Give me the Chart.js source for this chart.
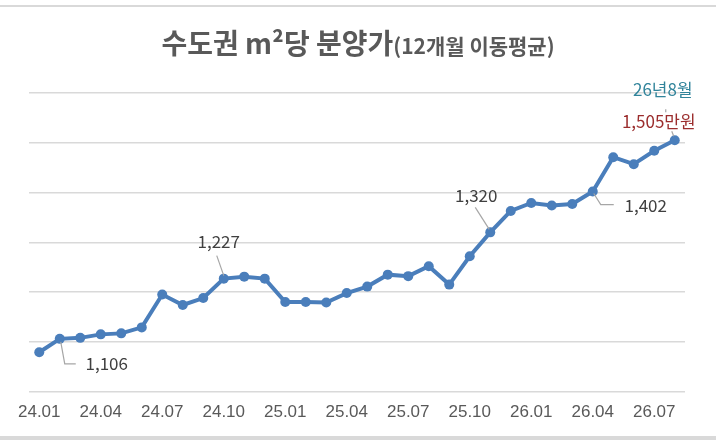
<!DOCTYPE html>
<html>
<head>
<meta charset="utf-8">
<script src="https://cdn.jsdelivr.net/npm/chart.js@4.4.1/dist/chart.umd.min.js"></script>
<style>
  html, body { margin:0; padding:0; background:#fff; }
  #wrap { position:relative; width:716px; height:440px; overflow:hidden; }
  #topline { position:absolute; left:0; top:5px; width:716px; height:2px; background:#d9d9d9; }
  #botline { position:absolute; left:0; top:436px; width:716px; height:4px; background:#d9d9d9; }
  #title { position:absolute; left:0; top:22px; width:716px; text-align:center;
           font-family:"Noto Sans CJK KR", "Noto Sans", sans-serif; font-weight:bold; color:#595959; white-space:nowrap; }
  #title .big { font-size:28px; }
  #title .small { font-size:21px; }
  canvas { position:absolute; left:0; top:0; }
</style>
</head>
<body>
<div id="wrap">
  <div id="topline"></div>
  <div id="botline"></div>
  <canvas id="chart" width="716" height="440"></canvas>
  <div id="title"><span class="big">수도권 m²당 분양가</span><span class="small">(12개월 이동평균)</span></div>
</div>
<script>
// months 24.01 .. 26.08
const months = [
  "24.01","24.02","24.03","24.04","24.05","24.06","24.07","24.08","24.09","24.10","24.11","24.12",
  "25.01","25.02","25.03","25.04","25.05","25.06","25.07","25.08","25.09","25.10","25.11","25.12",
  "26.01","26.02","26.03","26.04","26.05","26.06","26.07","26.08"
];
// 만원 per m², 12-month moving average
const prices = [
  1079, 1106, 1108, 1115, 1117, 1129, 1195, 1174, 1188, 1227, 1231, 1227,
  1180, 1180, 1179, 1198, 1211, 1235, 1232, 1252, 1215, 1272, 1320, 1363,
  1379, 1374, 1377, 1402, 1471, 1457, 1484, 1505
];
const shownTicks = ["24.01","24.04","24.07","24.10","25.01","25.04","25.07","25.10","26.01","26.04","26.07"];
const yTicks = [1000, 1100, 1200, 1300, 1400, 1500, 1600];

const lineColor = '#4a7ebb';
const labelFont = '17px "Liberation Sans Narrow", "Noto Sans CJK KR", sans-serif';

// callouts: point index, label offset from point, leader path (offsets from point)
const callouts = [
  { idx: 1,  dx: 47,  dy: 25,  path: [[1, 3], [5, 25], [16, 25]] },
  { idx: 9,  dx: -5,  dy: -37, path: [[0, -3], [-7, -23]] },
  { idx: 22, dx: -14, dy: -37, path: [[-1, -3], [-15, -25]] },
  { idx: 27, dx: 53,  dy: 14,  path: [[1, 2], [8, 13], [21, 13]] }
];

const calloutPlugin = {
  id: 'callouts',
  afterDatasetsDraw(chart) {
    const ctx = chart.ctx;
    const pts = chart.getDatasetMeta(0).data;
    ctx.save();
    ctx.font = labelFont;
    ctx.textAlign = 'center';
    ctx.textBaseline = 'middle';
    callouts.forEach(c => {
      const p = pts[c.idx];
      ctx.strokeStyle = '#a6a6a6';
      ctx.lineWidth = 1.2;
      ctx.beginPath();
      c.path.forEach((o, k) => {
        if (k === 0) ctx.moveTo(p.x + o[0], p.y + o[1]);
        else ctx.lineTo(p.x + o[0], p.y + o[1]);
      });
      ctx.stroke();
      ctx.fillStyle = '#404040';
      ctx.fillText(prices[c.idx].toLocaleString('en-US'), p.x + c.dx, p.y + c.dy);
    });
    // last point callout
    const last = prices.length - 1;
    const lp = pts[last];
    const [yy, mm] = months[last].split('.');
    ctx.strokeStyle = '#a6a6a6';
    ctx.beginPath();
    ctx.moveTo(lp.x - 9, lp.y - 31);
    ctx.lineTo(lp.x - 9, lp.y - 28);
    ctx.moveTo(lp.x - 3, lp.y - 9);
    ctx.lineTo(lp.x - 1, lp.y - 4);
    ctx.stroke();
    ctx.fillStyle = '#31849b';
    ctx.fillText(yy + '년' + parseInt(mm, 10) + '월', lp.x - 12, lp.y - 51);
    ctx.fillStyle = '#9b2d2d';
    ctx.fillText(prices[last].toLocaleString('en-US') + '만원', lp.x - 16, lp.y - 19);
    ctx.restore();
  }
};

new Chart(document.getElementById('chart'), {
  type: 'line',
  data: {
    labels: months,
    datasets: [{
      data: prices,
      borderColor: lineColor,
      backgroundColor: lineColor,
      borderWidth: 4,
      pointRadius: 5,
      pointBorderWidth: 0,
      pointBackgroundColor: lineColor,
      tension: 0,
      fill: false
    }]
  },
  options: {
    responsive: false,
    animation: false,
    layout: { padding: { left: 29, right: 31, top: 93, bottom: 14 } },
    plugins: { legend: { display: false }, tooltip: { enabled: false }, title: { display: false } },
    scales: {
      x: {
        offset: true,
        grid: { display: false },
        border: { display: false },
        ticks: {
          autoSkip: false,
          maxRotation: 0,
          padding: 3,
          color: '#595959',
          font: { family: '"Liberation Sans Narrow", "Liberation Sans", sans-serif', size: 17 },
          callback: function(v, i) {
            const l = months[i];
            return shownTicks.includes(l) ? l : '';
          }
        }
      },
      y: {
        min: yTicks[0],
        max: yTicks[yTicks.length - 1],
        afterBuildTicks: s => { s.ticks = yTicks.map(v => ({ value: v })); },
        afterFit: s => { s.width = 0; },
        grid: { color: '#d9d9d9', lineWidth: 1.5, drawTicks: false },
        border: { display: false },
        ticks: { display: false }
      }
    }
  },
  plugins: [calloutPlugin]
});
</script>
</body>
</html>
